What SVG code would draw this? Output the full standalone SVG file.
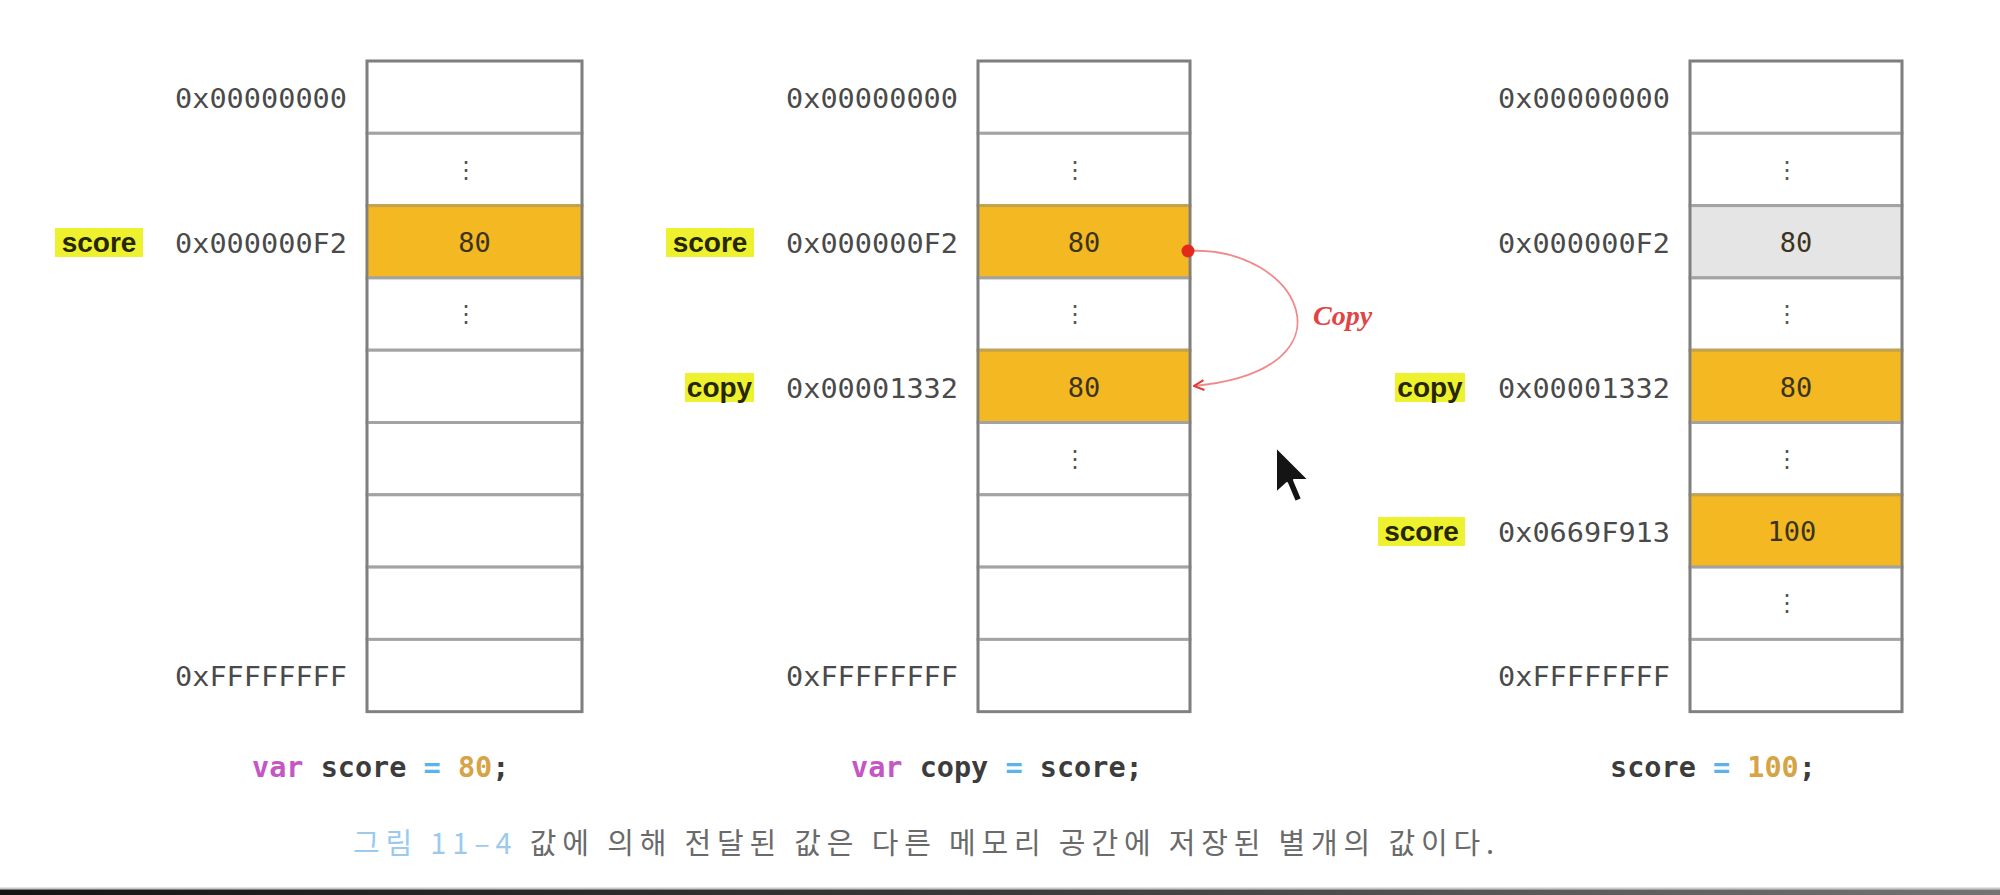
<svg xmlns="http://www.w3.org/2000/svg" width="2000" height="895" viewBox="0 0 2000 895">
<style>
.cell{fill:#ffffff;stroke:#a3a3a3;stroke-width:3}
.hot{fill:#f3b822;stroke:#c4a24e;stroke-width:3}
.old{fill:#e5e5e5;stroke:#a3a3a3;stroke-width:3}
.frame{fill:none;stroke:#7f7f7f;stroke-width:2.5}
.addr{font-family:"DejaVu Sans Mono","Liberation Mono",monospace;font-size:27px;fill:#4a4a4a;text-anchor:end;dominant-baseline:central}
.val{font-family:"DejaVu Sans Mono","Liberation Mono",monospace;font-size:27px;fill:#3a3320;text-anchor:middle;dominant-baseline:central}
.dots{font-family:"DejaVu Sans",sans-serif;font-size:24px;fill:#555555;text-anchor:middle;dominant-baseline:central}
.hl{fill:#eef22e}
.var{font-family:"Liberation Sans","DejaVu Sans",sans-serif;font-weight:bold;font-size:28px;fill:#262600;text-anchor:middle;dominant-baseline:central}
.code{font-family:"DejaVu Sans Mono","Liberation Mono",monospace;font-weight:bold;font-size:28.5px;fill:#3c3c3c;dominant-baseline:central}
.kw{fill:#c457c4}
.op{fill:#5ab4e8}
.num{fill:#d6a446}
.cap{font-family:"Noto Sans CJK KR","Noto Sans",sans-serif;font-size:29px;fill:#6a6a6a;dominant-baseline:central}
.capno{fill:#9ccaee}
</style>
<defs>
<marker id="ah" viewBox="0 0 12 12" refX="11" refY="6" markerWidth="12" markerHeight="12" markerUnits="userSpaceOnUse" orient="auto">
<path d="M1,1 L11,6 L1,11" fill="none" stroke="#e23a3a" stroke-width="2"/>
</marker>
<linearGradient id="bar" x1="0" y1="0" x2="1" y2="0">
<stop offset="0" stop-color="#141414"/>
<stop offset="0.5" stop-color="#3a3a3a"/>
<stop offset="1" stop-color="#747474"/>
</linearGradient>
</defs>
<rect x="0" y="0" width="2000" height="895" fill="#ffffff"/>

<!-- Column 1: var score = 80; -->
<g id="col1">
<g id="c1-cells">
<rect class="cell" x="367" y="61" width="215" height="72.3"/>
<rect class="cell" x="367" y="133.3" width="215" height="72.3"/>
<rect class="hot" x="367" y="205.6" width="215" height="72.3"/>
<rect class="cell" x="367" y="277.9" width="215" height="72.3"/>
<rect class="cell" x="367" y="350.2" width="215" height="72.3"/>
<rect class="cell" x="367" y="422.5" width="215" height="72.3"/>
<rect class="cell" x="367" y="494.8" width="215" height="72.3"/>
<rect class="cell" x="367" y="567.1" width="215" height="72.3"/>
<rect class="cell" x="367" y="639.4" width="215" height="72.3"/>
<rect class="frame" x="367" y="61" width="215" height="650.7"/>
</g>
<text class="dots" x="466" y="170">⋮</text>
<text class="val" x="474.5" y="242">80</text>
<text class="dots" x="466" y="314">⋮</text>
<text class="addr" x="347" y="98" textLength="172" lengthAdjust="spacingAndGlyphs">0x00000000</text>
<text class="addr" x="347" y="243" textLength="172" lengthAdjust="spacingAndGlyphs">0x000000F2</text>
<text class="addr" x="347" y="676" textLength="172" lengthAdjust="spacingAndGlyphs">0xFFFFFFFF</text>
<g id="c1-score">
<rect class="hl" x="55" y="228" width="88" height="29"/>
<text class="var" x="99" y="242">score</text>
</g>
<text class="code" x="252" y="767"><tspan class="kw">var</tspan> score <tspan class="op">=</tspan> <tspan class="num">80</tspan>;</text>
</g>

<!-- Column 2: var copy = score; -->
<g id="col2">
<g id="c2-cells">
<rect class="cell" x="978" y="61" width="212" height="72.3"/>
<rect class="cell" x="978" y="133.3" width="212" height="72.3"/>
<rect class="hot" x="978" y="205.6" width="212" height="72.3"/>
<rect class="cell" x="978" y="277.9" width="212" height="72.3"/>
<rect class="hot" x="978" y="350.2" width="212" height="72.3"/>
<rect class="cell" x="978" y="422.5" width="212" height="72.3"/>
<rect class="cell" x="978" y="494.8" width="212" height="72.3"/>
<rect class="cell" x="978" y="567.1" width="212" height="72.3"/>
<rect class="cell" x="978" y="639.4" width="212" height="72.3"/>
<rect class="frame" x="978" y="61" width="212" height="650.7"/>
</g>
<text class="dots" x="1075" y="170">⋮</text>
<text class="val" x="1084" y="242">80</text>
<text class="dots" x="1075" y="314">⋮</text>
<text class="val" x="1084" y="387">80</text>
<text class="dots" x="1075" y="459">⋮</text>
<text class="addr" x="958" y="98" textLength="172" lengthAdjust="spacingAndGlyphs">0x00000000</text>
<text class="addr" x="958" y="243" textLength="172" lengthAdjust="spacingAndGlyphs">0x000000F2</text>
<text class="addr" x="958" y="388" textLength="172" lengthAdjust="spacingAndGlyphs">0x00001332</text>
<text class="addr" x="958" y="676" textLength="172" lengthAdjust="spacingAndGlyphs">0xFFFFFFFF</text>
<g id="c2-score">
<rect class="hl" x="666" y="228" width="88" height="29"/>
<text class="var" x="710" y="242">score</text>
</g>
<g id="c2-copy">
<rect class="hl" x="685" y="373" width="69" height="29"/>
<text class="var" x="719.5" y="387">copy</text>
</g>
<text class="code" x="851" y="767"><tspan class="kw">var</tspan> copy <tspan class="op">=</tspan> score;</text>
</g>

<!-- Column 3: score = 100; -->
<g id="col3">
<g id="c3-cells">
<rect class="cell" x="1690" y="61" width="212" height="72.3"/>
<rect class="cell" x="1690" y="133.3" width="212" height="72.3"/>
<rect class="old" x="1690" y="205.6" width="212" height="72.3"/>
<rect class="cell" x="1690" y="277.9" width="212" height="72.3"/>
<rect class="hot" x="1690" y="350.2" width="212" height="72.3"/>
<rect class="cell" x="1690" y="422.5" width="212" height="72.3"/>
<rect class="hot" x="1690" y="494.8" width="212" height="72.3"/>
<rect class="cell" x="1690" y="567.1" width="212" height="72.3"/>
<rect class="cell" x="1690" y="639.4" width="212" height="72.3"/>
<rect class="frame" x="1690" y="61" width="212" height="650.7"/>
</g>
<text class="dots" x="1787" y="170">⋮</text>
<text class="val" x="1796" y="242">80</text>
<text class="dots" x="1787" y="314">⋮</text>
<text class="val" x="1796" y="387">80</text>
<text class="dots" x="1787" y="459">⋮</text>
<text class="val" x="1792" y="531">100</text>
<text class="dots" x="1787" y="603">⋮</text>
<text class="addr" x="1670" y="98" textLength="172" lengthAdjust="spacingAndGlyphs">0x00000000</text>
<text class="addr" x="1670" y="243" textLength="172" lengthAdjust="spacingAndGlyphs">0x000000F2</text>
<text class="addr" x="1670" y="388" textLength="172" lengthAdjust="spacingAndGlyphs">0x00001332</text>
<text class="addr" x="1670" y="532" textLength="172" lengthAdjust="spacingAndGlyphs">0x0669F913</text>
<text class="addr" x="1670" y="676" textLength="172" lengthAdjust="spacingAndGlyphs">0xFFFFFFFF</text>
<g id="c3-copy">
<rect class="hl" x="1395" y="373" width="70" height="29"/>
<text class="var" x="1430" y="387">copy</text>
</g>
<g id="c3-score">
<rect class="hl" x="1378" y="517" width="87" height="29"/>
<text class="var" x="1421.5" y="531">score</text>
</g>
<text class="code" x="1610" y="767">score <tspan class="op">=</tspan> <tspan class="num">100</tspan>;</text>
</g>

<!-- Connectors -->
<g id="connectors">
<path d="M1188,251 C1300,245 1362,370 1194,386" fill="none" stroke="#f08a8a" stroke-width="1.8" marker-end="url(#ah)"/>
<circle cx="1188" cy="251" r="6.5" fill="#e3291c"/>
<text x="1313" y="315" font-family="Liberation Serif, serif" font-style="italic" font-weight="bold" font-size="28" fill="#e04444" dominant-baseline="central">Copy</text>
</g>

<!-- Caption -->
<text class="cap" x="353" y="841" textLength="1141" lengthAdjust="spacing"><tspan class="capno">그림 11–4</tspan> 값에 의해 전달된 값은 다른 메모리 공간에 저장된 별개의 값이다.</text>

<!-- Mouse pointer -->
<g id="cursor">
<polygon points="1276,447 1276,493 1287,483 1295,502 1302,499 1294,480 1309,480" fill="#141414" stroke="#ffffff" stroke-width="2" stroke-linejoin="round"/>
</g>

<!-- Bottom bar -->
<rect x="0" y="887.5" width="2000" height="2" fill="#c8c8c8"/>
<rect x="0" y="889.5" width="2000" height="5.5" fill="url(#bar)"/>
</svg>
